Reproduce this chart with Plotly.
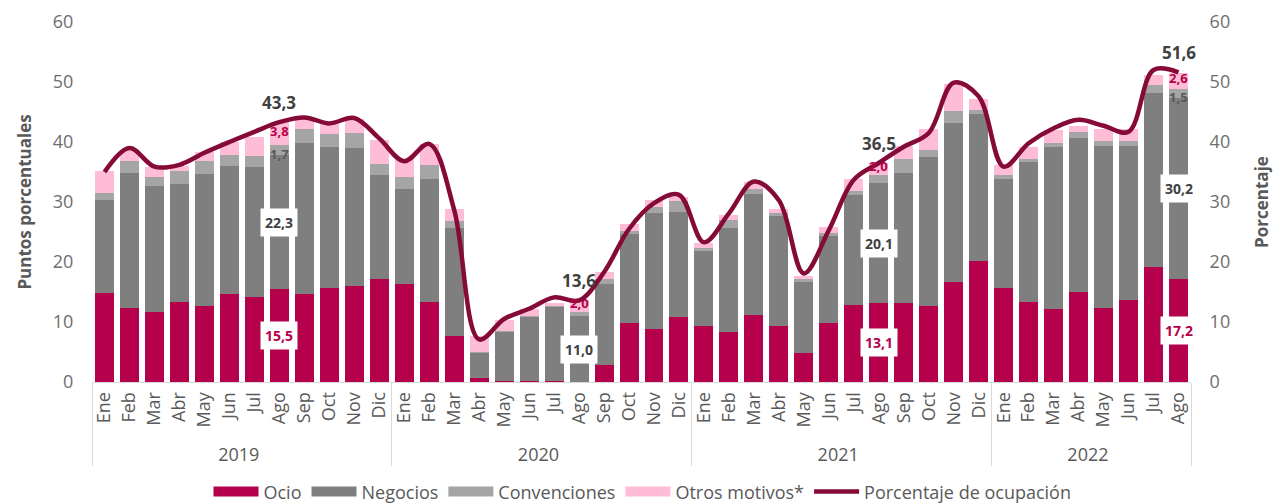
import plotly.graph_objects as go

months_all = ["Ene", "Feb", "Mar", "Abr", "May", "Jun", "Jul", "Ago", "Sep", "Oct", "Nov", "Dic"]
years = ["2019"] * 12 + ["2020"] * 12 + ["2021"] * 12 + ["2022"] * 8
months = months_all * 3 + months_all[:8]

ocio = [14.8, 12.4, 11.7, 13.4, 12.7, 14.7, 14.1, 15.5, 14.7, 15.7, 16.0, 17.1,
        16.3, 13.4, 7.7, 0.7, 0.1, 0.1, 0.1, 0.0, 2.8, 9.9, 8.8, 10.8,
        9.4, 8.4, 11.2, 9.4, 4.9, 9.8, 12.9, 13.1, 13.1, 12.6, 16.6, 20.2,
        15.7, 13.3, 12.2, 15.0, 12.4, 13.7, 19.1, 17.2]
negocios = [15.5, 22.4, 21.0, 19.6, 22.0, 21.3, 21.8, 22.3, 25.2, 23.5, 23.0, 17.4,
            15.9, 20.5, 17.9, 4.2, 8.3, 10.8, 12.4, 11.0, 13.6, 14.7, 19.3, 17.6,
            12.5, 17.3, 20.1, 18.2, 11.8, 14.5, 18.3, 20.1, 21.8, 24.9, 26.6, 24.4,
            18.2, 23.3, 26.9, 25.6, 27.0, 25.7, 29.1, 30.2]
convenciones = [1.2, 2.1, 1.4, 2.2, 2.2, 1.9, 1.7, 1.7, 2.3, 2.2, 2.5, 1.8,
                1.9, 2.2, 1.3, 0.1, 0.1, 0.1, 0.1, 0.6, 0.7, 0.5, 1.1, 1.7,
                0.5, 1.3, 0.8, 0.5, 0.4, 0.5, 0.7, 1.3, 2.2, 1.1, 2.0, 0.7,
                0.6, 0.6, 0.7, 1.1, 0.8, 0.8, 1.3, 1.5]
otros = [3.7, 1.8, 1.8, 0.8, 1.4, 2.1, 3.3, 3.8, 1.8, 1.7, 2.3, 4.1,
         3.0, 3.5, 1.9, 2.7, 1.9, 1.2, 0.5, 2.0, 1.3, 1.2, 1.1, 0.8,
         0.7, 0.9, 1.3, 0.8, 0.6, 1.0, 1.9, 2.0, 2.3, 3.5, 4.5, 1.8,
         1.6, 2.0, 2.2, 0.9, 1.9, 1.9, 1.7, 2.6]
ocupacion = [35.0, 39.0, 35.9, 36.2, 38.2, 40.0, 41.7, 43.3, 44.1, 43.1, 44.0, 40.6,
             36.8, 39.7, 28.7, 7.1, 10.5, 12.2, 14.1, 13.6, 18.3, 25.5, 29.8, 31.2,
             23.3, 28.1, 33.4, 30.3, 18.1, 25.3, 33.7, 36.5, 39.2, 41.5, 49.9, 47.6,
             35.9, 39.8, 42.3, 43.7, 42.7, 41.7, 52.0, 51.6]

# Labelled months (Agosto of each year) and which segment labels are shown
label_idx = [7, 19, 31, 43]
show_ocio = [True, False, True, True]
show_conv = [True, False, False, True]

C_OCIO = "#B5004B"
C_NEG = "#7F7F7F"
C_CONV = "#A5A5A5"
C_OTROS = "#FFBCD6"
C_LINE = "#850A37"
C_TEXT = "#595959"
C_TICK = "#6E6E6E"
C_DARK = "#404040"
FONT = "Open Sans"


def fmt(v):
    return f"{v:.1f}".replace(".", ",")


x = [years, months]
fig = go.Figure()
series = [("Ocio", ocio, C_OCIO), ("Negocios", negocios, C_NEG),
          ("Convenciones", convenciones, C_CONV), ("Otros motivos*", otros, C_OTROS)]
for name, vals, col in series:
    fig.add_trace(go.Bar(x=x, y=vals, name=name, marker=dict(color=col, line=dict(width=0)),
                         hoverinfo="skip", showlegend=False))

fig.add_trace(go.Scatter(x=x, y=ocupacion, name="Porcentaje de ocupación", yaxis="y2",
                         mode="lines", showlegend=False,
                         line=dict(color=C_LINE, width=4.5, shape="spline", smoothing=1.0)))

# legend entries (wide rectangular swatches like the original)
for name, _, col in series:
    fig.add_trace(go.Scatter(x=[None], y=[None], xaxis="x2", mode="lines", name=name,
                             line=dict(color=col, width=12), hoverinfo="skip"))
fig.add_trace(go.Scatter(x=[None], y=[None], xaxis="x2", mode="lines",
                         name="Porcentaje de ocupación", line=dict(color=C_LINE, width=4.5),
                         hoverinfo="skip"))

ann = []
for k, i in enumerate(label_idx):
    base = ocio[i] + negocios[i] + convenciones[i]
    ann.append(dict(x=i, y=ocupacion[i], xref="x2", yref="y", text=f"<b>{fmt(ocupacion[i])}</b>",
                    showarrow=False, yshift=20, font=dict(size=17, color=C_DARK, family=FONT)))
    ann.append(dict(x=i, y=base + otros[i] / 2, xref="x2", yref="y", text=f"<b>{fmt(otros[i])}</b>",
                    showarrow=False, yshift=3, font=dict(size=13, color=C_OCIO, family=FONT)))
    if show_conv[k]:
        ann.append(dict(x=i, y=ocio[i] + negocios[i] + convenciones[i] / 2, xref="x2", yref="y",
                        text=f"<b>{fmt(convenciones[i])}</b>", showarrow=False, yshift=-4,
                        font=dict(size=13, color=C_TEXT, family=FONT)))
    ann.append(dict(x=i, y=ocio[i] + negocios[i] / 2, xref="x2", yref="y",
                    text=f"<b>{fmt(negocios[i])}</b>", showarrow=False, bgcolor="white",
                    borderpad=4, font=dict(size=14, color=C_DARK, family=FONT)))
    if show_ocio[k]:
        ann.append(dict(x=i, y=ocio[i] / 2, xref="x2", yref="y",
                        text=f"<b>{fmt(ocio[i])}</b>", showarrow=False, bgcolor="white",
                        borderpad=4, font=dict(size=14, color=C_OCIO, family=FONT)))

fig.update_layout(
    width=1285, height=504,
    margin=dict(l=92, r=94, t=22, b=122),
    barmode="stack", bargap=0.24,
    plot_bgcolor="white", paper_bgcolor="white",
    font=dict(family=FONT, size=17, color=C_TEXT),
    showlegend=True,
    legend=dict(orientation="h", x=0.5, xanchor="center", xref="container",
                y=0.024, yanchor="middle", yref="container",
                font=dict(size=18, color=C_TEXT), itemwidth=45, tracegroupgap=0,
                traceorder="normal"),
    xaxis=dict(type="multicategory", tickangle=-90, showgrid=False, showline=True,
               linecolor="#D9D9D9", linewidth=1, ticks="", showdividers=True,
               dividercolor="#D9D9D9", dividerwidth=1, automargin=False,
               ticklabelstandoff=2,
               tickfont=dict(size=18, color=C_TEXT, family=FONT)),
    xaxis2=dict(overlaying="x", range=[-0.5, len(ocio) - 0.5], visible=False, showgrid=False),
    yaxis=dict(range=[0, 60], dtick=10, showgrid=False, zeroline=False, showline=False,
               ticks="outside", ticklen=14, tickcolor="rgba(0,0,0,0)", automargin=False,
               tickfont=dict(size=18, color=C_TICK),
               title=dict(text="<b>Puntos porcentuales</b>", font=dict(size=17, color=C_TEXT),
                          standoff=16)),
    yaxis2=dict(range=[0, 60], dtick=10, overlaying="y", side="right", showgrid=False,
                zeroline=False, showline=False, ticks="outside", ticklen=14, automargin=False,
                tickcolor="rgba(0,0,0,0)", tickfont=dict(size=18, color=C_TICK),
                title=dict(text="<b>Porcentaje</b>", font=dict(size=17, color=C_TEXT),
                           standoff=26)),
    annotations=ann,
)

fig.write_html("out.html")
